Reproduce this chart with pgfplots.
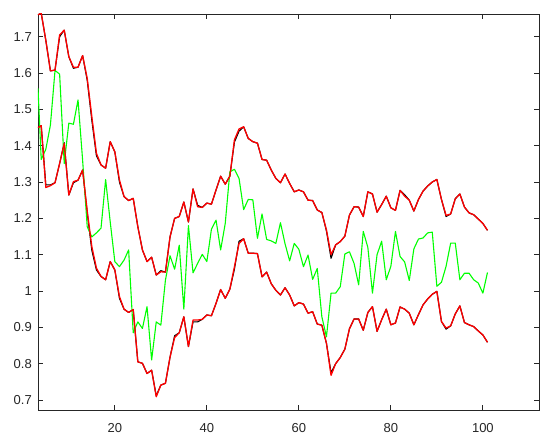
\documentclass[border=0pt]{standalone}
\usepackage{fontspec}
\setmainfont{Liberation Sans}
\usepackage{pgfplots}
\usepackage{pgfplotstable}
\pgfplotsset{compat=1.18}
\definecolor{pred}{rgb}{1,0,0}
\definecolor{pgreen}{rgb}{0,1,0}
\definecolor{axgray}{rgb}{0.15,0.15,0.15}
\pgfplotstableread{
x    upr    lor    grn    upk    lok
3.3  1.760  1.450  1.558  1.760  1.450
4    1.765  1.455  1.362  1.765  1.455
5    1.690  1.285  1.390  1.690  1.292
6    1.606  1.290  1.457  1.606  1.292
7    1.608  1.298  1.607  1.608  1.298
8    1.705  1.351  1.597  1.700  1.351
9    1.718  1.406  1.351  1.718  1.408
10   1.645  1.264  1.462  1.645  1.264
11   1.616  1.301  1.459  1.613  1.298
12   1.616  1.305  1.526  1.616  1.305
13   1.648  1.333  1.360  1.648  1.333
14   1.585  1.220  1.177  1.580  1.215
15   1.480  1.122  1.149  1.470  1.112
16   1.379  1.063  1.160  1.372  1.058
17   1.347  1.040  1.173  1.347  1.040
18   1.338  1.031  1.307  1.338  1.031
19   1.411  1.081  1.190  1.411  1.081
20   1.383  1.058  1.081  1.383  1.058
21   1.306  0.985  1.067  1.300  0.980
22   1.260  0.950  1.085  1.260  0.950
23   1.249  0.941  1.113  1.249  0.941
24   1.255  0.949  0.885  1.255  0.949
25   1.177  0.805  0.915  1.177  0.805
26   1.113  0.801  0.897  1.113  0.801
27   1.081  0.773  0.957  1.081  0.773
28   1.093  0.782  0.810  1.093  0.782
29   1.044  0.709  0.915  1.044  0.712
30   1.053  0.741  0.906  1.056  0.741
31   1.052  0.746  1.030  1.052  0.746
32   1.149  0.818  1.097  1.149  0.818
33   1.200  0.872  1.060  1.200  0.877
34   1.205  0.885  1.126  1.205  0.885
35   1.245  0.929  0.950  1.245  0.929
36   1.190  0.847  1.180  1.190  0.847
37   1.281  0.920  1.050  1.281  0.915
38   1.232  0.920  1.076  1.236  0.915
39   1.230  0.922  1.101  1.230  0.922
40   1.242  0.934  1.081  1.242  0.934
41   1.239  0.932  1.170  1.239  0.932
42   1.278  0.966  1.195  1.278  0.966
43   1.316  1.004  1.113  1.316  1.004
44   1.294  0.980  1.186  1.294  0.980
45   1.316  1.005  1.328  1.316  1.005
46   1.416  1.067  1.335  1.410  1.060
47   1.446  1.131  1.310  1.440  1.137
48   1.452  1.144  1.224  1.452  1.144
49   1.420  1.104  1.252  1.420  1.104
50   1.411  1.104  1.251  1.411  1.104
51   1.407  1.103  1.145  1.407  1.103
52   1.362  1.039  1.212  1.362  1.039
53   1.360  1.052  1.142  1.360  1.052
54   1.333  1.020  1.138  1.333  1.020
55   1.310  1.002  1.131  1.310  1.002
56   1.298  0.989  1.188  1.298  0.989
57   1.322  1.009  1.130  1.322  1.009
58   1.296  0.989  1.083  1.296  0.989
59   1.273  0.959  1.131  1.273  0.959
60   1.278  0.968  1.115  1.278  0.968
61   1.273  0.964  1.067  1.273  0.964
62   1.250  0.939  1.099  1.250  0.939
63   1.249  0.943  1.032  1.249  0.943
64   1.223  0.909  1.062  1.223  0.909
65   1.216  0.906  0.929  1.216  0.906
66   1.168  0.856  0.874  1.165  0.856
67   1.100  0.768  0.994  1.090  0.775
68   1.127  0.800  0.994  1.127  0.800
69   1.136  0.817  1.012  1.136  0.817
70   1.151  0.840  1.102  1.151  0.840
71   1.209  0.896  1.108  1.209  0.896
72   1.232  0.923  1.076  1.232  0.923
73   1.231  0.923  1.017  1.231  0.923
74   1.205  0.892  1.164  1.205  0.892
75   1.273  0.941  1.120  1.273  0.941
76   1.267  0.957  0.994  1.267  0.957
77   1.217  0.889  1.100  1.217  0.889
78   1.238  0.921  1.137  1.238  0.921
79   1.261  0.950  1.031  1.261  0.950
80   1.229  0.907  1.068  1.229  0.907
81   1.222  0.912  1.164  1.222  0.912
82   1.277  0.956  1.095  1.277  0.956
83   1.261  0.950  1.080  1.265  0.950
84   1.250  0.939  1.029  1.250  0.939
85   1.220  0.907  1.116  1.220  0.907
86   1.252  0.935  1.143  1.252  0.935
87   1.275  0.962  1.146  1.275  0.962
88   1.289  0.978  1.160  1.289  0.978
89   1.300  0.991  1.162  1.300  0.991
90   1.307  0.999  1.013  1.307  0.999
91   1.252  0.916  1.024  1.252  0.916
92   1.208  0.898  1.068  1.205  0.895
93   1.212  0.904  1.132  1.212  0.904
94   1.254  0.937  1.132  1.254  0.937
95   1.267  0.959  1.031  1.267  0.959
96   1.231  0.913  1.049  1.231  0.913
97   1.215  0.907  1.049  1.215  0.907
98   1.210  0.902  1.031  1.210  0.902
99   1.198  0.890  1.022  1.198  0.890
100  1.186  0.879  0.994  1.186  0.879
101  1.167  0.859  1.051  1.167  0.859
}\datatable
\begin{document}
\begin{tikzpicture}
\useasboundingbox (-38pt,-33pt) rectangle (512pt,410pt);
\begin{axis}[
  scale only axis,
  width=501pt, height=396pt,
  xmin=3.3, xmax=112.2,
  ymin=0.6725, ymax=1.7625,
  xtick={20,40,60,80,100},
  ytick={0.7,0.8,0.9,1,1.1,1.2,1.3,1.4,1.5,1.6,1.7},
  yticklabels={0.7,0.8,0.9,1,1.1,1.2,1.3,1.4,1.5,1.6,1.7},
  tick align=inside,
  major tick length=5pt,
  axis line style={draw=axgray, line width=0.8pt},
  every tick/.style={axgray, line width=0.8pt},
  /pgf/number format/assume math mode=true,
  xticklabel style={font=\fontsize{13}{15}\selectfont, inner sep=0pt, anchor=north, yshift=-13pt, text=axgray},
  yticklabel style={font=\fontsize{13}{15}\selectfont, inner sep=0pt, anchor=east, xshift=-6pt, text=axgray},
]
\addplot[black, line width=1.1pt, line join=round] table[x=x, y=upk] {\datatable};
\addplot[black, line width=1.1pt, line join=round] table[x=x, y=lok] {\datatable};
\addplot[pgreen, line width=1.1pt, line join=round] table[x=x, y=grn] {\datatable};
\addplot[pred, line width=1.3pt, line join=round] table[x=x, y=upr] {\datatable};
\addplot[pred, line width=1.3pt, line join=round] table[x=x, y=lor] {\datatable};
\end{axis}
\end{tikzpicture}
\end{document}
